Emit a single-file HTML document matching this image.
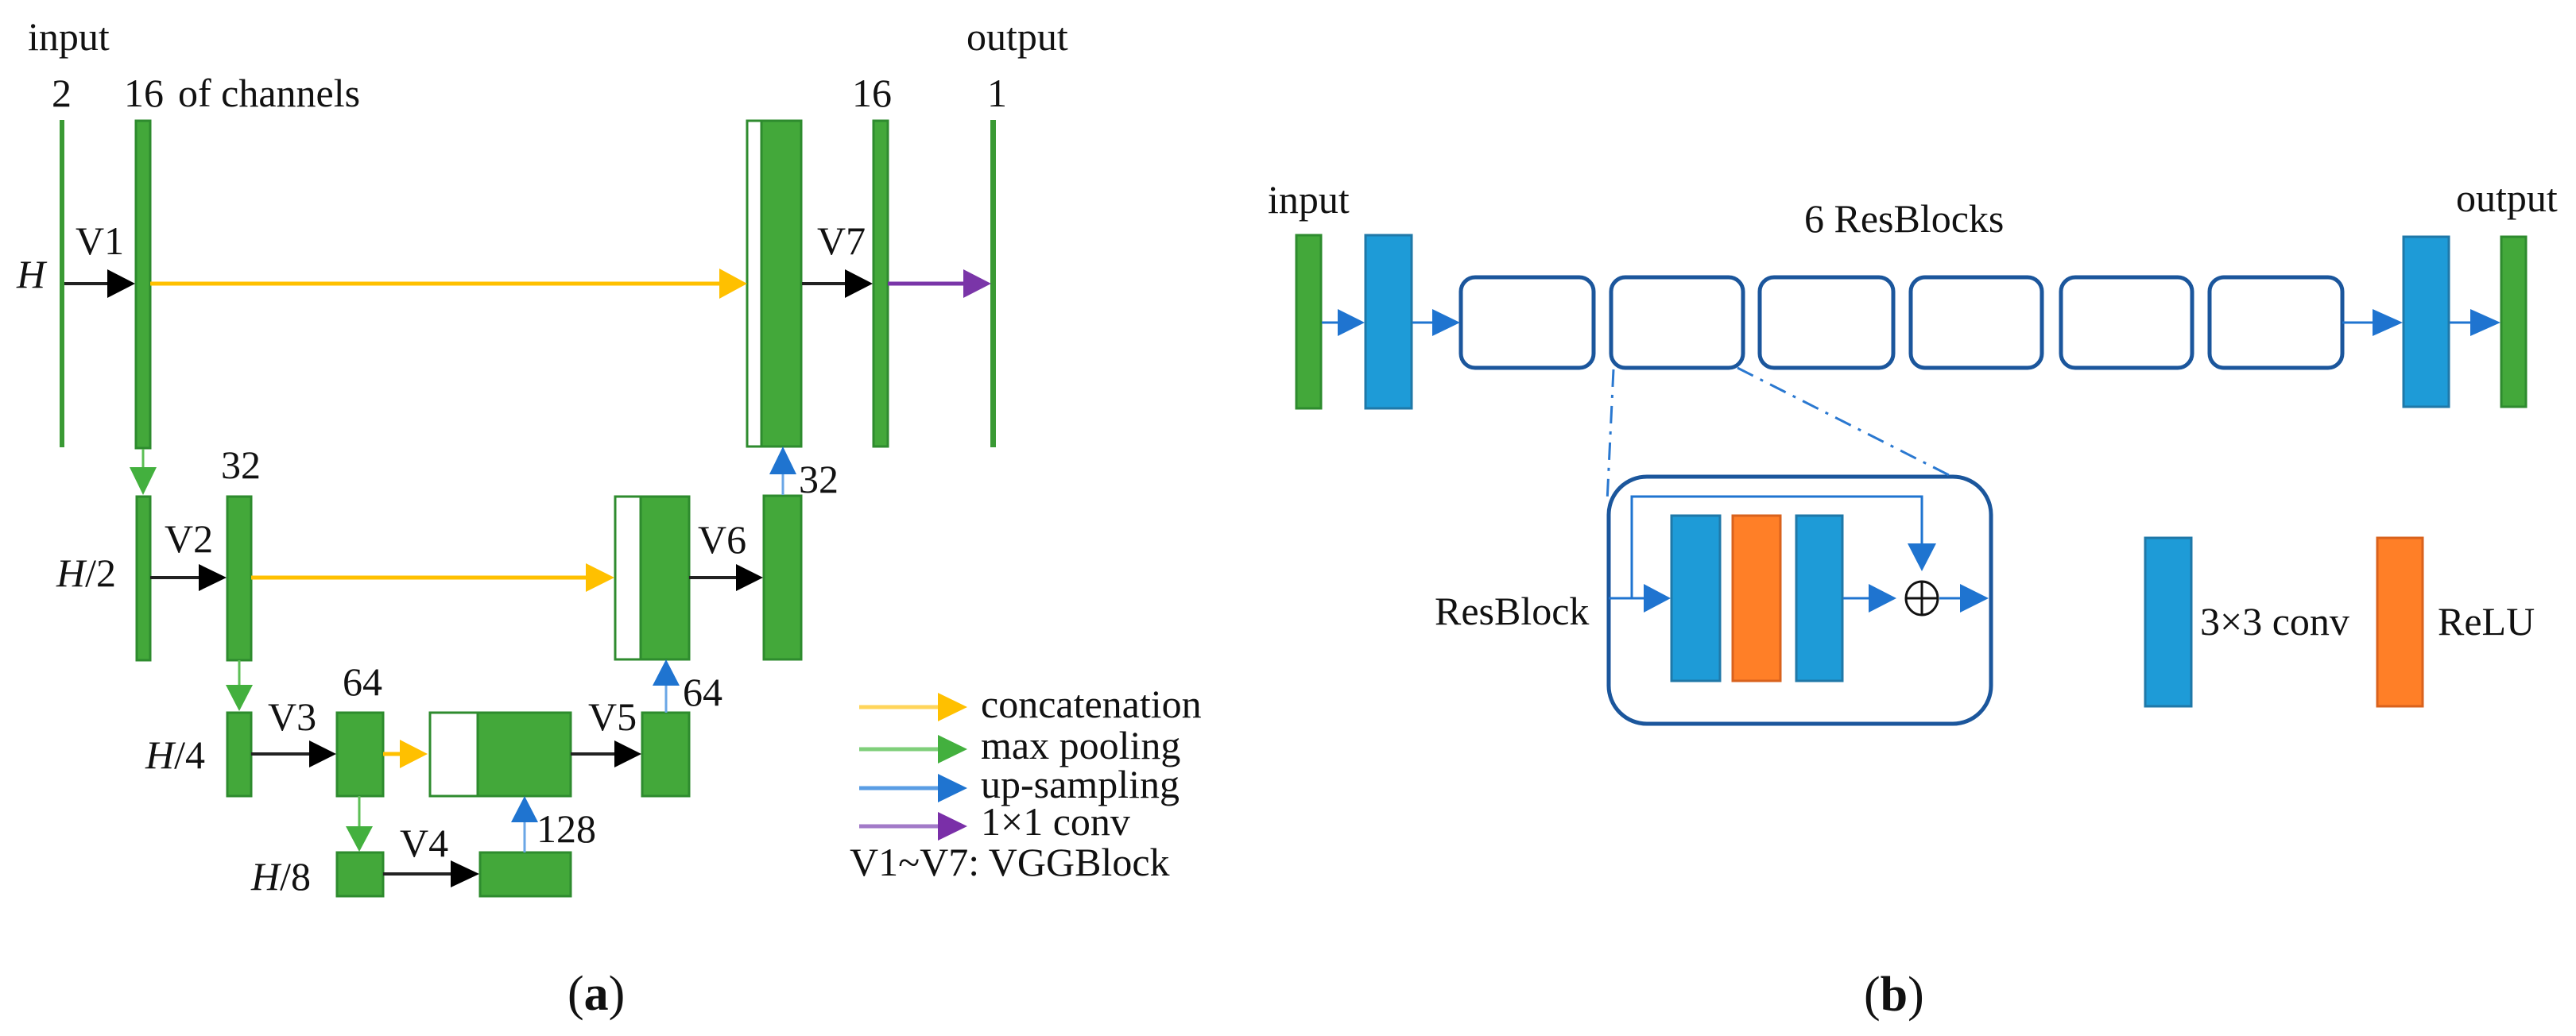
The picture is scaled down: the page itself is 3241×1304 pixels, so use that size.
<!DOCTYPE html>
<html><head><meta charset="utf-8"><style>
html,body{margin:0;padding:0;background:#fff;}
svg{display:block;}
text{font-family:"Liberation Serif",serif;fill:#111;}
</style></head><body>
<svg width="3241" height="1304" viewBox="0 0 3241 1304" xmlns="http://www.w3.org/2000/svg">
<g font-size="50">
<!-- ===== Part (a) ===== -->
<text x="35" y="63">input</text>
<text x="1216" y="63">output</text>
<text x="65" y="134">2</text>
<text x="156" y="134">16</text>
<text x="224" y="134">of channels</text>
<text x="1072" y="134">16</text>
<text x="1242" y="134">1</text>

<g fill="#43a83a" stroke="#2e8b2e" stroke-width="3">
  <rect x="75" y="151" width="6" height="412" stroke="none" fill="#3a9a34"/>
  <rect x="171" y="152" width="18" height="412"/>
  <rect x="940" y="152" width="68" height="410" fill="#fff"/>
  <rect x="958" y="152" width="50" height="410"/>
  <rect x="1099" y="152" width="18" height="410"/>
  <rect x="1246" y="151" width="7" height="412" stroke="none" fill="#3a9a34"/>
  <rect x="172" y="625" width="17" height="206"/>
  <rect x="286" y="625" width="30" height="206"/>
  <rect x="774" y="625" width="93" height="205" fill="#fff"/>
  <rect x="806" y="625" width="61" height="205"/>
  <rect x="961" y="624" width="47" height="206"/>
  <rect x="286" y="897" width="30" height="105"/>
  <rect x="424" y="897" width="58" height="105"/>
  <rect x="541" y="897" width="177" height="105" fill="#fff"/>
  <rect x="601" y="897" width="117" height="105"/>
  <rect x="808" y="897" width="59" height="105"/>
  <rect x="424" y="1073" width="58" height="55"/>
  <rect x="604" y="1073" width="114" height="55"/>
</g>

<text x="21" y="362" font-style="italic">H</text>
<text x="71" y="738"><tspan font-style="italic">H</tspan>/2</text>
<text x="183" y="967"><tspan font-style="italic">H</tspan>/4</text>
<text x="316" y="1120"><tspan font-style="italic">H</tspan>/8</text>
<text x="95" y="320">V1</text>
<text x="1028" y="320">V7</text>
<text x="207" y="695">V2</text>
<text x="878" y="696">V6</text>
<text x="337" y="919">V3</text>
<text x="740" y="919">V5</text>
<text x="503" y="1078">V4</text>
<text x="278" y="602">32</text>
<text x="1005" y="620">32</text>
<text x="431" y="875">64</text>
<text x="859" y="888">64</text>
<text x="675" y="1060">128</text>

<g stroke="#222" stroke-width="4">
  <line x1="81" y1="357" x2="140" y2="357"/>
  <line x1="1009" y1="357" x2="1065" y2="357"/>
  <line x1="189" y1="727" x2="252" y2="727"/>
  <line x1="867" y1="727" x2="928" y2="727"/>
  <line x1="316" y1="949" x2="392" y2="949"/>
  <line x1="718" y1="949" x2="776" y2="949"/>
  <line x1="482" y1="1100" x2="570" y2="1100"/>
</g>
<g fill="#000">
  <polygon points="135,339 170,357 135,375"/>
  <polygon points="1063,339 1098,357 1063,375"/>
  <polygon points="250,710 285,727 250,744"/>
  <polygon points="926,710 960,727 926,744"/>
  <polygon points="389,932 423,949 389,966"/>
  <polygon points="773,932 807,949 773,966"/>
  <polygon points="567,1083 603,1100 567,1117"/>
</g>
<g stroke="#ffc000" stroke-width="5">
  <line x1="189" y1="357" x2="910" y2="357"/>
  <line x1="316" y1="727" x2="742" y2="727"/>
  <line x1="482" y1="949" x2="506" y2="949"/>
</g>
<g fill="#ffc000">
  <polygon points="905,338 940,357 905,376"/>
  <polygon points="737,709 773,727 737,745"/>
  <polygon points="503,931 538,949 503,967"/>
</g>
<line x1="1117" y1="357" x2="1215" y2="357" stroke="#7a35a8" stroke-width="5"/>
<polygon points="1212,339 1247,357 1212,375" fill="#7a35a8"/>
<g stroke="#5cbf55" stroke-width="3">
  <line x1="180" y1="565" x2="180" y2="592"/>
  <line x1="301" y1="831" x2="301" y2="864"/>
  <line x1="452" y1="1002" x2="452" y2="1042"/>
</g>
<g fill="#43b03e">
  <polygon points="163,588 197,588 180,623"/>
  <polygon points="284,862 318,862 301,895"/>
  <polygon points="435,1040 469,1040 452,1072"/>
</g>
<g stroke="#6aa6e6" stroke-width="3">
  <line x1="985" y1="623" x2="985" y2="594"/>
  <line x1="838" y1="897" x2="838" y2="860"/>
  <line x1="660" y1="1073" x2="660" y2="1033"/>
</g>
<g fill="#1f74d0">
  <polygon points="968,597 1002,597 985,562"/>
  <polygon points="821,863 855,863 838,830"/>
  <polygon points="643,1035 677,1035 660,1002"/>
</g>

<line x1="1081" y1="890" x2="1185" y2="890" stroke="#ffd55a" stroke-width="5"/>
<polygon points="1180,872 1217,890 1180,908" fill="#ffc000"/>
<line x1="1081" y1="943" x2="1185" y2="943" stroke="#7fcf7a" stroke-width="5"/>
<polygon points="1180,925 1217,943 1180,961" fill="#43b03e"/>
<line x1="1081" y1="992" x2="1185" y2="992" stroke="#5a9de4" stroke-width="5"/>
<polygon points="1180,974 1217,992 1180,1010" fill="#1f74d0"/>
<line x1="1081" y1="1040" x2="1185" y2="1040" stroke="#a27ac8" stroke-width="5"/>
<polygon points="1180,1022 1217,1040 1180,1058" fill="#7a2fa8"/>
<text x="1234" y="903">concatenation</text>
<text x="1234" y="955">max pooling</text>
<text x="1234" y="1004">up-sampling</text>
<text x="1234" y="1051">1×1 conv</text>
<text x="1069" y="1102">V1~V7: VGGBlock</text>

<text x="714" y="1271" font-size="62">(<tspan font-weight="bold">a</tspan>)</text>

<!-- ===== Part (b) ===== -->
<text x="1595" y="268">input</text>
<text x="3090" y="266">output</text>
<text x="2270" y="292">6 ResBlocks</text>

<rect x="1631" y="296" width="31" height="218" fill="#43a83a" stroke="#2e8b2e" stroke-width="3"/>
<rect x="1718" y="296" width="58" height="218" fill="#1e9bd7" stroke="#1f78a8" stroke-width="3"/>
<rect x="3024" y="298" width="57" height="214" fill="#1e9bd7" stroke="#1f78a8" stroke-width="3"/>
<rect x="3147" y="298" width="31" height="214" fill="#43a83a" stroke="#2e8b2e" stroke-width="3"/>

<g fill="none" stroke="#1b569c" stroke-width="5">
  <rect x="1838" y="349" width="167" height="114" rx="18"/>
  <rect x="2027" y="349" width="166" height="114" rx="18"/>
  <rect x="2214" y="349" width="168" height="114" rx="18"/>
  <rect x="2404" y="349" width="165" height="114" rx="18"/>
  <rect x="2593" y="349" width="165" height="114" rx="18"/>
  <rect x="2780" y="349" width="167" height="114" rx="18"/>
  <rect x="2024" y="600" width="481" height="311" rx="48"/>
</g>
<g stroke="#1f74d0" stroke-width="3">
  <line x1="1663" y1="406" x2="1688" y2="406"/>
  <line x1="1777" y1="406" x2="1805" y2="406"/>
  <line x1="2947" y1="406" x2="2990" y2="406"/>
  <line x1="3082" y1="406" x2="3112" y2="406"/>
</g>
<g fill="#1f74d0">
  <polygon points="1683,389 1717,406 1683,423"/>
  <polygon points="1802,389 1837,406 1802,423"/>
  <polygon points="2985,389 3023,406 2985,423"/>
  <polygon points="3108,389 3146,406 3108,423"/>
</g>
<g stroke="#2a78d0" stroke-width="3" fill="none" stroke-dasharray="22,10,4,10">
  <line x1="2030" y1="465" x2="2022" y2="632"/>
  <line x1="2186" y1="463" x2="2456" y2="600"/>
</g>

<text x="1805" y="786">ResBlock</text>
<rect x="2103" y="649" width="61" height="208" fill="#1e9bd7" stroke="#1f78a8" stroke-width="3"/>
<rect x="2180" y="649" width="60" height="208" fill="#ff7f27" stroke="#d9621c" stroke-width="3"/>
<rect x="2260" y="649" width="58" height="208" fill="#1e9bd7" stroke="#1f78a8" stroke-width="3"/>
<g stroke="#1f74d0" stroke-width="3" fill="none">
  <line x1="2024" y1="753" x2="2072" y2="753"/>
  <polyline points="2053,753 2053,625 2418,625 2418,688"/>
  <line x1="2319" y1="753" x2="2355" y2="753"/>
  <line x1="2440" y1="753" x2="2470" y2="753"/>
</g>
<g fill="#1f74d0">
  <polygon points="2068,735 2102,753 2068,771"/>
  <polygon points="2400,684 2436,684 2418,719"/>
  <polygon points="2351,735 2386,753 2351,771"/>
  <polygon points="2466,735 2502,753 2466,771"/>
</g>
<g stroke="#111" stroke-width="3" fill="none">
  <ellipse cx="2418" cy="753" rx="20" ry="21"/>
  <line x1="2398" y1="753" x2="2438" y2="753"/>
  <line x1="2418" y1="732" x2="2418" y2="774"/>
</g>

<rect x="2699" y="677" width="58" height="212" fill="#1e9bd7" stroke="#1f78a8" stroke-width="3"/>
<rect x="2991" y="677" width="57" height="212" fill="#ff7f27" stroke="#d9621c" stroke-width="3"/>
<text x="2768" y="799">3×3 conv</text>
<text x="3067" y="799">ReLU</text>

<text x="2345" y="1272" font-size="62">(<tspan font-weight="bold">b</tspan>)</text>
</g>
</svg>
</body></html>
